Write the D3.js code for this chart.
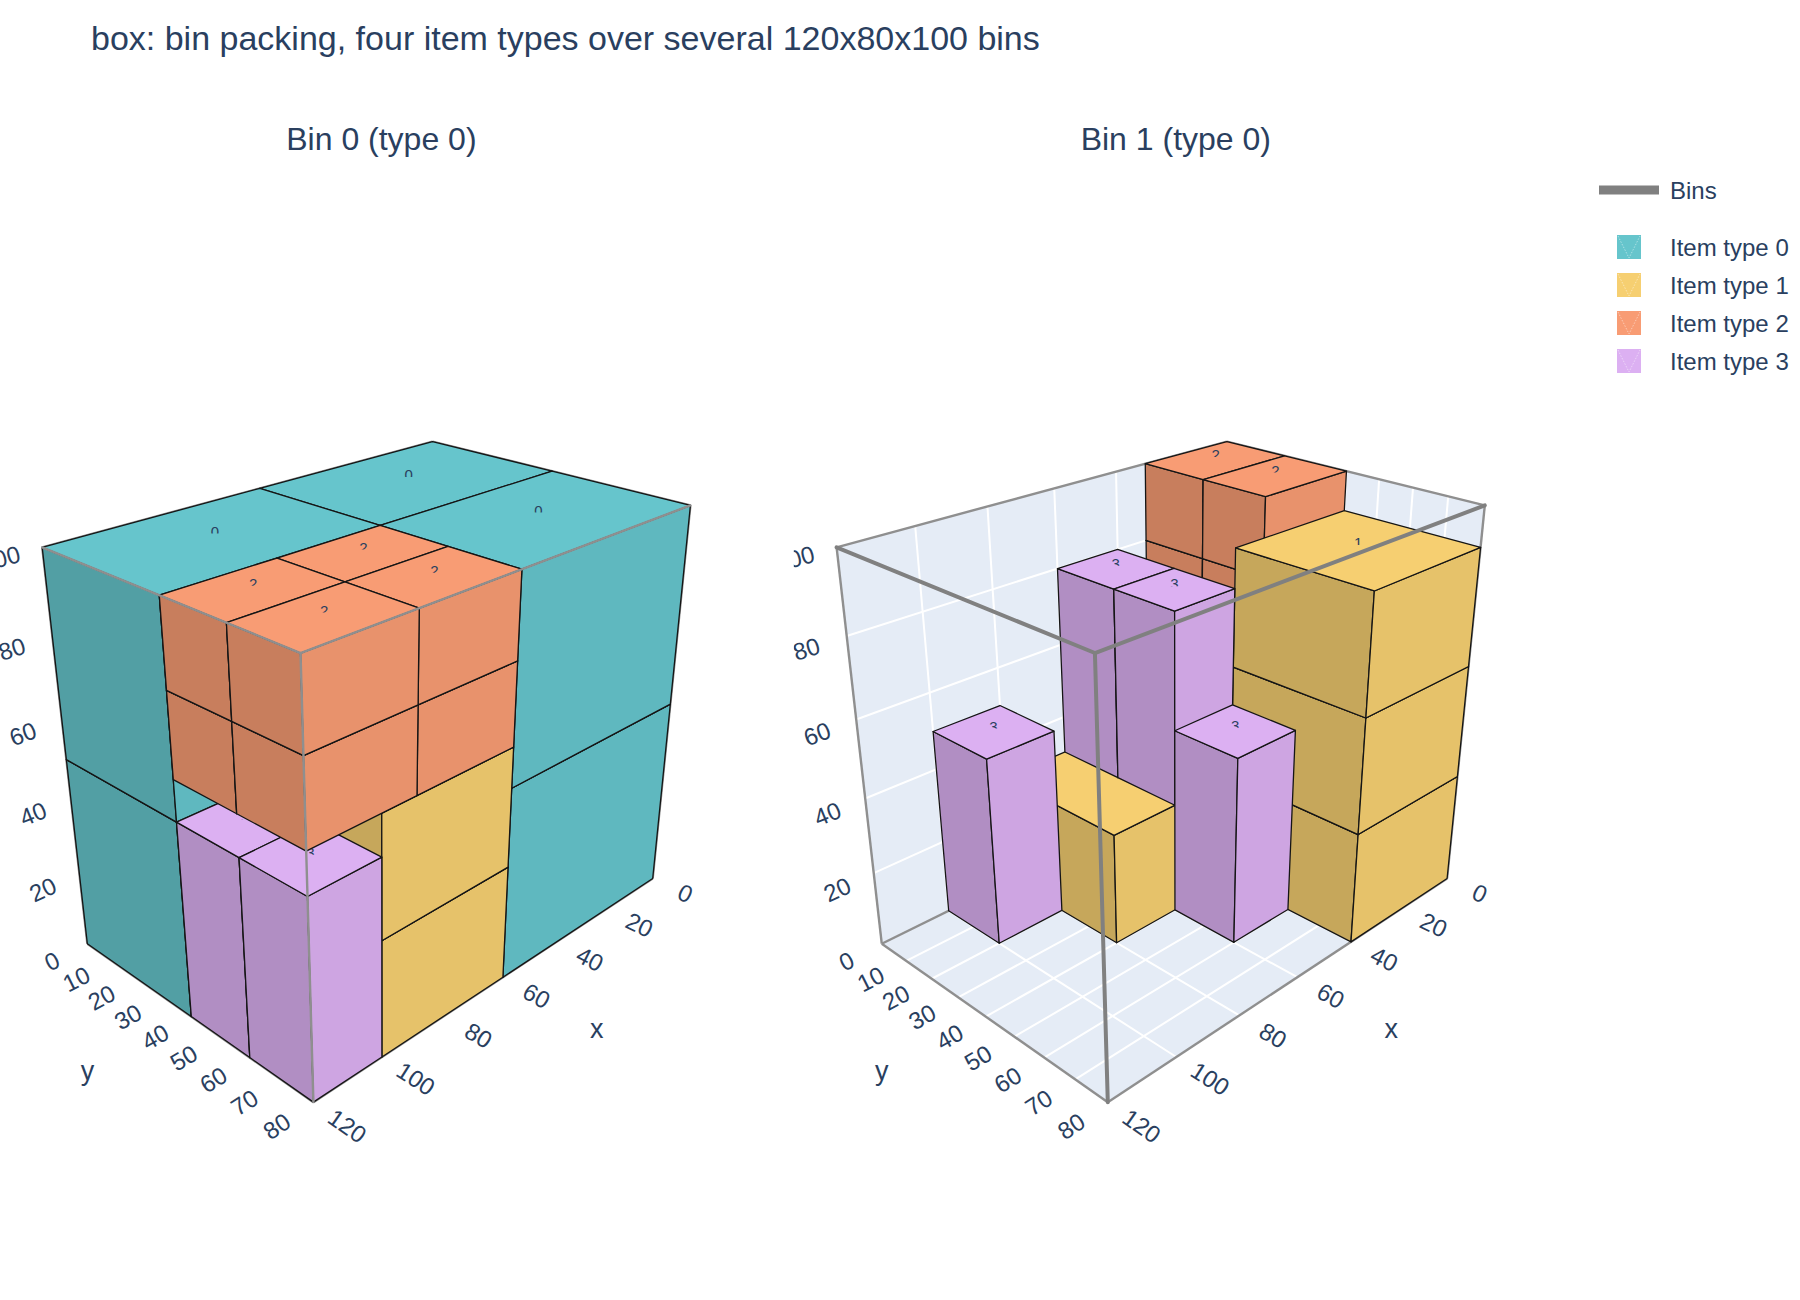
<!DOCTYPE html>
<html><head><meta charset="utf-8">
<script src="https://cdn.jsdelivr.net/npm/d3@7"></script>
<style>
body{margin:0;background:#fff;}
text{font-family:"Liberation Sans", Arial, sans-serif;fill:#2a3f5f;}
</style>
</head><body>
<svg id="chart" width="1800" height="1300"></svg>
<script>
// ---------------- data ----------------
const chartTitle = "box: bin packing, four item types over several 120x80x100 bins";
const binTitles = ["Bin 0 (type 0)", "Bin 1 (type 0)"];
const binDims = [120, 80, 100];
const typeNames = ["Item type 0", "Item type 1", "Item type 2", "Item type 3"];
const typeColors = ["#66C5CC", "#F6CF71", "#F89C74", "#DCB0F2"];
const typeSizes = [[60, 40, 50], [40, 40, 30], [30, 20, 20], [20, 20, 50]];
// placements: [type, x, y, z]
const bin0Items = [
  [0, 60, 0, 0], [0, 60, 0, 50], [0, 0, 0, 0], [0, 0, 0, 50], [0, 0, 40, 0], [0, 0, 40, 50],
  [1, 60, 40, 0], [1, 60, 40, 30],
  [2, 60, 40, 60], [2, 90, 40, 60], [2, 60, 60, 60], [2, 90, 60, 60],
  [2, 60, 40, 80], [2, 90, 40, 80], [2, 60, 60, 80], [2, 90, 60, 80],
  [3, 100, 40, 0], [3, 100, 60, 0]
];
const bin1Items = [
  [1, 0, 40, 0], [1, 0, 40, 30], [1, 0, 40, 60], [1, 40, 0, 0],
  [2, 0, 0, 0], [2, 0, 20, 0], [2, 0, 0, 20], [2, 0, 20, 20], [2, 0, 0, 40],
  [2, 0, 20, 40], [2, 0, 0, 60], [2, 0, 20, 60], [2, 0, 0, 80], [2, 0, 20, 80],
  [3, 80, 0, 0], [3, 40, 40, 0], [3, 40, 0, 30], [3, 40, 20, 30]
];
const xTicks = [0, 20, 40, 60, 80, 100, 120];
const yTicks = [0, 10, 20, 30, 40, 50, 60, 70, 80];
const zTicks = [20, 40, 60, 80, 100];

// ---------------- layout / camera ----------------
const camera = { eye: [269.5, 247.6, 195.7], target: [60, 41, 48.4], focal: 1404 };
const sceneCenters = [[383.4, 738.2], [1177.8, 738.2]];
const sceneHalfWidth = 384;
const faceShade = { top: 1.0, xface: 0.805, yface: 0.935 };
const tickOffset = 10, titleOffset = 27;
const tickFontSize = 24, axisTitleSize = 27, boxLabelSize = 15;

const svg = d3.select("#chart");
const defs = svg.append("defs");

const vsub = (a, b) => [a[0] - b[0], a[1] - b[1], a[2] - b[2]];
const vdot = (a, b) => a[0] * b[0] + a[1] * b[1] + a[2] * b[2];
const vnorm = a => { const l = Math.hypot(a[0], a[1], a[2]); return a.map(v => v / l); };
const vcross = (a, b) => [a[1] * b[2] - a[2] * b[1], a[2] * b[0] - a[0] * b[2], a[0] * b[1] - a[1] * b[0]];

function makeProjector(center) {
  const E = camera.eye, D = vnorm(vsub(camera.target, E));
  const R = vnorm([D[1], -D[0], 0]);
  const U = vcross(R, D);
  return p => {
    const v = vsub(p, E), d = vdot(v, D);
    return [center[0] + camera.focal * vdot(v, R) / d, center[1] - camera.focal * vdot(v, U) / d];
  };
}

function shade(hex, k) {
  const c = d3.rgb(hex);
  return d3.rgb(c.r * k, c.g * k, c.b * k).formatHex();
}

let labelClipCount = 0;

function drawScene(si, items) {
  const proj = makeProjector(sceneCenters[si]);
  const [BX, BY, BZ] = binDims;
  const clipId = "sceneclip" + si;
  defs.append("clipPath").attr("id", clipId).append("rect")
    .attr("x", sceneCenters[si][0] - sceneHalfWidth).attr("y", 0)
    .attr("width", 2 * sceneHalfWidth).attr("height", 1300);
  const g = svg.append("g").attr("clip-path", `url(#${clipId})`);
  const line = d3.line();
  const polyPath = pts => line(pts.map(proj)) + "Z";
  const segPath = s => line(s.map(proj));

  // background walls
  const walls = [
    [[0, 0, 0], [BX, 0, 0], [BX, 0, BZ], [0, 0, BZ]],
    [[0, 0, 0], [0, BY, 0], [0, BY, BZ], [0, 0, BZ]],
    [[0, 0, 0], [BX, 0, 0], [BX, BY, 0], [0, BY, 0]]
  ];
  g.append("g").selectAll("path").data(walls).join("path")
    .attr("d", polyPath).attr("fill", "#E5ECF6").attr("stroke", "none");

  // grid lines
  const grid = [];
  xTicks.filter(t => t > 0 && t < BX).forEach(t => { grid.push([[t, 0, 0], [t, 0, BZ]]); grid.push([[t, 0, 0], [t, BY, 0]]); });
  yTicks.filter(t => t > 0 && t < BY).forEach(t => { grid.push([[0, t, 0], [0, t, BZ]]); grid.push([[0, t, 0], [BX, t, 0]]); });
  zTicks.filter(t => t > 0 && t < BZ).forEach(t => { grid.push([[0, 0, t], [BX, 0, t]]); grid.push([[0, 0, t], [0, BY, t]]); });
  g.append("g").selectAll("path").data(grid).join("path")
    .attr("d", segPath).attr("stroke", "#ffffff").attr("stroke-width", 2).attr("fill", "none");

  // bin wireframe edges
  const C = (x, y, z) => [x ? BX : 0, y ? BY : 0, z ? BZ : 0];
  const edges = [];
  [[0,0],[1,0],[0,1],[1,1]].forEach(([b,c]) => edges.push([C(0,b,c), C(1,b,c)]));
  [[0,0],[1,0],[0,1],[1,1]].forEach(([a,c]) => edges.push([C(a,0,c), C(a,1,c)]));
  [[0,0],[1,0],[0,1],[1,1]].forEach(([a,b]) => edges.push([C(a,b,0), C(a,b,1)]));
  const onWall = e => [0, 1, 2].some(k => e[0][k] === 0 && e[1][k] === 0);
  const wallEdges = edges.filter(onWall), frontEdges = edges.filter(e => !onWall(e));
  g.append("g").selectAll("path").data(wallEdges).join("path")
    .attr("d", segPath).attr("stroke", "#8f8f8f").attr("stroke-width", 2.4).attr("fill", "none");

  // boxes
  const boxes = items.map(([t, x, y, z]) => {
    const s = typeSizes[t];
    return { t, x0: x, y0: y, z0: z, x1: x + s[0], y1: y + s[1], z1: z + s[2] };
  });
  const behind = (a, b) => a.x1 <= b.x0 || a.y1 <= b.y0 || a.z1 <= b.z0;
  const preds = boxes.map(() => []);
  boxes.forEach((a, i) => boxes.forEach((b, j) => {
    if (i !== j && behind(a, b) && !behind(b, a)) preds[j].push(i);
  }));
  const order = [], state = boxes.map(() => 0);
  const visit = j => {
    if (state[j]) return;
    state[j] = 1;
    preds[j].forEach(visit);
    order.push(j);
  };
  boxes.forEach((_, j) => visit(j));

  const boxLayer = g.append("g");
  order.forEach(j => {
    const b = boxes[j], col = typeColors[b.t];
    const bg = boxLayer.append("g");
    const faces = [
      { pts: [[b.x1, b.y0, b.z0], [b.x1, b.y1, b.z0], [b.x1, b.y1, b.z1], [b.x1, b.y0, b.z1]], k: faceShade.xface },
      { pts: [[b.x0, b.y1, b.z0], [b.x1, b.y1, b.z0], [b.x1, b.y1, b.z1], [b.x0, b.y1, b.z1]], k: faceShade.yface },
      { pts: [[b.x0, b.y0, b.z1], [b.x1, b.y0, b.z1], [b.x1, b.y1, b.z1], [b.x0, b.y1, b.z1]], k: faceShade.top }
    ];
    bg.selectAll("path").data(faces).join("path")
      .attr("d", f => polyPath(f.pts)).attr("fill", f => shade(col, f.k))
      .attr("stroke", "#151515").attr("stroke-width", 1.3).attr("stroke-linejoin", "round");
    // label at top centre (upper part only visible)
    const p = proj([(b.x0 + b.x1) / 2, (b.y0 + b.y1) / 2, b.z1]);
    const id = "lblclip" + (labelClipCount++);
    defs.append("clipPath").attr("id", id).append("rect")
      .attr("x", p[0] - 15).attr("y", p[1] - 20).attr("width", 30).attr("height", 17.3);
    bg.append("text").attr("x", p[0]).attr("y", p[1] + 0.6)
      .attr("text-anchor", "middle").attr("font-size", boxLabelSize).attr("clip-path", `url(#${id})`)
      .text(String(b.t));
  });

  // front bin edges
  const onBoxFace = e => {
    const fixed = [0, 1, 2].filter(k => e[0][k] === e[1][k]);
    return boxes.some(b => fixed.every(k => (k === 0 ? b.x1 : k === 1 ? b.y1 : b.z1) === e[0][k]));
  };
  g.append("g").selectAll("path").data(frontEdges).join("path")
    .attr("d", segPath).attr("fill", "none")
    .attr("stroke", e => onBoxFace(e) ? "#8f8f8f" : "#808080")
    .attr("stroke-width", e => onBoxFace(e) ? 2.4 : 4)
    .attr("stroke-linecap", "round");

  // tick labels
  const labelLayer = g.append("g");
  const rotLabel = (p3, dir, txt, size) => {
    const p = proj(p3), q = proj([p3[0] + dir[0], p3[1] + dir[1], p3[2] + dir[2]]);
    const ang = Math.atan2(q[1] - p[1], q[0] - p[0]) * 180 / Math.PI;
    labelLayer.append("text").attr("transform", `translate(${p[0]},${p[1]}) rotate(${ang})`)
      .attr("text-anchor", "middle").attr("dominant-baseline", "central")
      .attr("font-size", size).text(txt);
  };
  xTicks.forEach(t => rotLabel([t, BY + tickOffset, 0], [0, 1, 0], String(t), tickFontSize));
  yTicks.forEach(t => rotLabel([BX + tickOffset, t, 0], [-1, 0, 0], String(t), tickFontSize));
  zTicks.forEach(t => rotLabel([BX + tickOffset, 0, t], [-1, 0, 0], String(t), tickFontSize));
  const axisTitles = [
    { p: [BX / 2, BY + titleOffset, 0], t: "x" },
    { p: [BX + titleOffset, BY / 2 - 1, 0], t: "y" },
    { p: [BX + titleOffset, 0, BZ / 2], t: "z" }
  ];
  axisTitles.forEach(a => {
    const p = proj(a.p);
    labelLayer.append("text").attr("x", p[0]).attr("y", p[1])
      .attr("text-anchor", "middle").attr("dominant-baseline", "central")
      .attr("font-size", axisTitleSize).text(a.t);
  });

  // subplot title
  svg.append("text").attr("x", sceneCenters[si][0] - 2).attr("y", 139)
    .attr("text-anchor", "middle").attr("dominant-baseline", "central")
    .attr("font-size", 32).text(binTitles[si]);
}

drawScene(0, bin0Items);
drawScene(1, bin1Items);

// main title
svg.append("text").attr("x", 91).attr("y", 38).attr("dominant-baseline", "central")
  .attr("font-size", 34).text(chartTitle);

// legend
const leg = svg.append("g");
leg.append("line").attr("x1", 1599).attr("x2", 1659).attr("y1", 190).attr("y2", 190)
  .attr("stroke", "#808080").attr("stroke-width", 9);
leg.append("text").attr("x", 1670).attr("y", 190).attr("dominant-baseline", "central")
  .attr("font-size", 24).text("Bins");
const legY = d3.scaleLinear().domain([0, 1]).range([247, 285]);
typeNames.forEach((name, k) => {
  const y = legY(k);
  leg.append("rect").attr("x", 1617).attr("y", y - 12).attr("width", 24).attr("height", 24)
    .attr("fill", typeColors[k]);
  leg.append("path").attr("d", `M1618,${y - 11}L1629,${y + 11}L1640,${y - 11}`)
    .attr("fill", "none").attr("stroke", "#fff").attr("stroke-opacity", 0.45)
    .attr("stroke-width", 1).attr("stroke-dasharray", "1.5,1.5");
  leg.append("text").attr("x", 1670).attr("y", y).attr("dominant-baseline", "central")
    .attr("font-size", 24).text(name);
});
</script>
</body></html>
